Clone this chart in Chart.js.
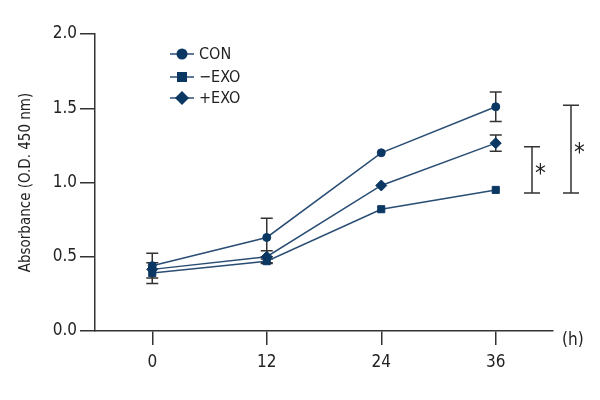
<!DOCTYPE html>
<html>
<head>
<meta charset="utf-8">
<script src="https://cdn.jsdelivr.net/npm/chart.js@4"></script>
<style>
html, body { margin: 0; padding: 0; background: #fff; }
#wrap { width: 600px; height: 400px; }
</style>
</head>
<body>
<div id="wrap"><canvas id="chart" width="600" height="400"></canvas></div>
<script>
// time points (h)
var hours = [0, 12, 24, 36];
var xTicks = [0, 12, 24, 36];
var yTicks = [0, 0.5, 1.0, 1.5, 2.0];

// absorbance (O.D. 450 nm)
var conValues = [0.44, 0.63, 1.20, 1.51];
var minusExoValues = [0.39, 0.47, 0.82, 0.95];
var plusExoValues = [0.415, 0.50, 0.98, 1.265];

// error bars (half length)
var conErr = [0.083, 0.13, 0, 0.10];
var minusExoErr = [0.07, 0.015, 0, 0];
var plusExoErr = [0, 0.04, 0, 0.055];

// significance brackets
var sigLow = [0.93, 0.93];
var sigHigh = [1.24, 1.52];
var sigText = ["*", "*"];

var FONT = "'DejaVu Sans Condensed', 'Liberation Sans', sans-serif";
var markerColor = "#0b3763";
var lineColor = "#2a4d74";
var inkColor = "#333333";

function pts(values) {
  return hours.map(function (h, i) { return { x: h, y: values[i] }; });
}

function makeSet(label, values, err, style, radius) {
  return {
    label: label,
    data: pts(values),
    errors: err,
    borderColor: lineColor,
    borderWidth: 1.5,
    backgroundColor: markerColor,
    pointBackgroundColor: markerColor,
    pointBorderColor: markerColor,
    pointBorderWidth: 1,
    pointStyle: style,
    pointRadius: radius,
    tension: 0
  };
}

// error bars, drawn under the markers
var errorBars = {
  id: "errorBars",
  beforeDatasetsDraw: function (chart) {
    var ctx = chart.ctx;
    var ys = chart.scales.y;
    ctx.save();
    ctx.strokeStyle = inkColor;
    ctx.lineWidth = 1.5;
    chart.data.datasets.forEach(function (ds, di) {
      var meta = chart.getDatasetMeta(di);
      meta.data.forEach(function (pt, i) {
        var e = ds.errors[i];
        if (!e) return;
        var v = ds.data[i].y;
        var top = ys.getPixelForValue(v + e);
        var bot = ys.getPixelForValue(v - e);
        ctx.beginPath();
        ctx.moveTo(pt.x, top); ctx.lineTo(pt.x, bot);
        ctx.moveTo(pt.x - 6, top); ctx.lineTo(pt.x + 6, top);
        ctx.moveTo(pt.x - 6, bot); ctx.lineTo(pt.x + 6, bot);
        ctx.stroke();
      });
    });
    ctx.restore();
  }
};

// significance brackets, legend, unit label
var extras = {
  id: "extras",
  afterDraw: function (chart) {
    var ctx = chart.ctx;
    var ys = chart.scales.y;
    var area = chart.chartArea;
    ctx.save();
    ctx.strokeStyle = inkColor;
    ctx.fillStyle = "#222";
    ctx.lineWidth = 1.5;
    var bx = [area.right - 21, area.right + 18];
    sigLow.forEach(function (lo, i) {
      var y1 = ys.getPixelForValue(sigHigh[i]);
      var y2 = ys.getPixelForValue(lo);
      var x = bx[i];
      ctx.beginPath();
      ctx.moveTo(x, y1); ctx.lineTo(x, y2);
      ctx.moveTo(x - 8, y1); ctx.lineTo(x + 8, y1);
      ctx.moveTo(x - 8, y2); ctx.lineTo(x + 8, y2);
      ctx.stroke();
      ctx.font = "24px " + FONT;
      ctx.textAlign = "left";
      ctx.textBaseline = "middle";
      ctx.fillText(sigText[i], x + 3, (y1 + y2) / 2 + 5);
    });

    // unit label
    ctx.font = "17px " + FONT;
    ctx.textAlign = "left";
    ctx.textBaseline = "middle";
    ctx.fillText("(h)", area.right + 9, area.bottom + 10);

    // legend
    var lx = 182, rows = [54, 77, 98];
    chart.data.datasets.forEach(function (ds, i) {
      var y = rows[i];
      ctx.strokeStyle = lineColor;
      ctx.lineWidth = 1.5;
      ctx.beginPath();
      ctx.moveTo(lx - 12, y); ctx.lineTo(lx + 12, y);
      ctx.stroke();
      ctx.fillStyle = markerColor;
      ctx.beginPath();
      if (ds.pointStyle === "circle") {
        ctx.arc(lx, y, 5.5, 0, Math.PI * 2);
      } else if (ds.pointStyle === "rect") {
        ctx.rect(lx - 5, y - 5, 10, 10);
      } else {
        ctx.moveTo(lx, y - 7); ctx.lineTo(lx + 7, y);
        ctx.lineTo(lx, y + 7); ctx.lineTo(lx - 7, y);
        ctx.closePath();
      }
      ctx.fill();
      ctx.fillStyle = "#222";
      ctx.font = "16px " + FONT;
      ctx.fillText(ds.label, lx + 17, y + 1);
    });
    ctx.restore();
  }
};

var ctx = document.getElementById("chart").getContext("2d");
var chart = new Chart(ctx, {
  type: "line",
  data: {
    datasets: [
      makeSet("CON", conValues, conErr, "circle", 4),
      makeSet("\u2212EXO", minusExoValues, minusExoErr, "rect", 5),
      makeSet("+EXO", plusExoValues, plusExoErr, "rectRot", 5.5)
    ]
  },
  options: {
    responsive: false,
    animation: false,
    layout: { padding: { top: 34, right: 47, left: 0, bottom: 0 } },
    plugins: {
      legend: { display: false },
      tooltip: { enabled: false }
    },
    scales: {
      x: {
        type: "linear",
        min: -6,
        max: 42,
        afterBuildTicks: function (axis) {
          axis.ticks = xTicks.map(function (v) { return { value: v }; });
        },
        afterFit: function (s) { s.height = 69; },
        grid: { drawOnChartArea: false, tickLength: 14, color: inkColor, lineWidth: 1.5 },
        border: { color: inkColor, width: 1.5 },
        ticks: { color: "#222", padding: 7, font: { family: FONT, size: 17 } }
      },
      y: {
        min: 0,
        max: 2,
        afterBuildTicks: function (axis) {
          axis.ticks = yTicks.map(function (v) { return { value: v }; });
        },
        afterFit: function (s) { s.width = 95; },
        grid: { drawOnChartArea: false, tickLength: 15, color: inkColor, lineWidth: 1.5 },
        border: { color: inkColor, width: 1.5 },
        ticks: {
          color: "#222",
          padding: 3,
          font: { family: FONT, size: 17 },
          callback: function (v) { return Number(v).toFixed(1); }
        },
        title: {
          display: true,
          text: "Absorbance (O.D. 450 nm)",
          color: "#222",
          font: { family: FONT, size: 15 },
          padding: { top: 17, bottom: 0 }
        }
      }
    }
  },
  plugins: [errorBars, extras]
});
</script>
</body>
</html>
